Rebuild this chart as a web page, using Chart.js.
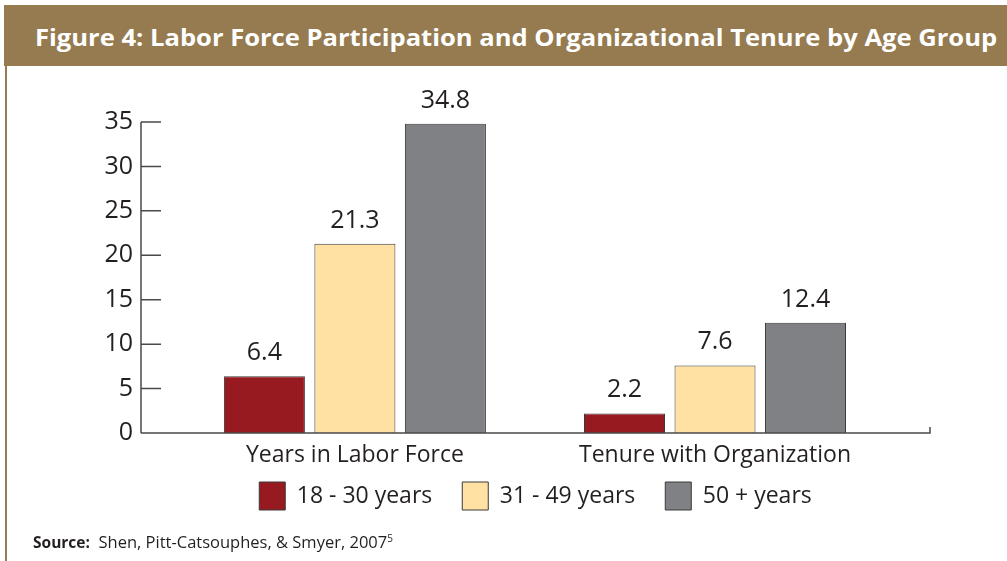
<!DOCTYPE html>
<html>
<head>
<meta charset="utf-8">
<script src="https://cdn.jsdelivr.net/npm/chart.js@4.4.1/dist/chart.umd.min.js"></script>
<style>
  html, body { margin: 0; padding: 0; background: #fff; }
  body { width: 1007px; height: 561px; position: relative; overflow: hidden; font-family: "Open Sans", sans-serif; }
  #frame { position: absolute; left: 5px; top: 5px; width: 2px; height: 556px; background: #957B4F; }
  #titlebar { position: absolute; left: 4px; top: 5px; width: 1003px; height: 61px; background: #957B4F; }
  #title { position: absolute; left: 35px; top: 22px; color: #fff; font-weight: 700; font-size: 24px; white-space: nowrap; transform-origin: 0 0; line-height: 30px; }
  #source { position: absolute; left: 33px; top: 530px; font-size: 16.5px; color: #231F20; white-space: nowrap; }
  #source b { font-size: 15.5px; }
  #source sup { font-size: 10px; }
  canvas { position: absolute; left: 0; top: 0; }
</style>
</head>
<body>
<canvas id="chart" width="1007" height="561"></canvas>
<div id="frame"></div>
<div id="titlebar"></div>
<div id="title">Figure 4: Labor Force Participation and Organizational Tenure by Age Group</div>
<div id="source"><b>Source:</b>&nbsp;&nbsp;Shen, Pitt-Catsouphes, &amp; Smyer, 2007<sup>5</sup></div>
<script>
// data
const categories = ['Years in Labor Force', 'Tenure with Organization'];
const ageGroups = ['18 - 30 years', '31 - 49 years', '50 + years'];
const young = [6.4, 2.2];
const middle = [21.3, 7.6];
const older = [34.8, 12.4];
const yTicks = [0, 5, 10, 15, 20, 25, 30, 35];

const colors = ['#961A1F', '#FEE1A3', '#808184'];
const ink = '#231F20';
const axisColor = '#4A4A4A';

// squeeze the title to the width of the bar
const title = document.getElementById('title');
title.style.transform = 'scaleX(' + (962 / title.scrollWidth) + ')';

function toPoints(values) {
  return values.map((v, i) => ({ x: i, y: v }));
}

const axisLines = {
  id: 'axisLines',
  afterDatasetsDraw(chart) {
    const ctx = chart.ctx;
    const x = chart.scales.x, y = chart.scales.y;
    const left = chart.chartArea.left, right = chart.chartArea.right;
    const y0 = y.getPixelForValue(0);
    ctx.save();
    ctx.strokeStyle = axisColor;
    ctx.lineWidth = 1.5;
    ctx.beginPath();
    ctx.moveTo(left, y0);
    ctx.lineTo(left, y.getPixelForValue(yTicks[yTicks.length - 1]));
    yTicks.forEach(t => {
      const py = y.getPixelForValue(t);
      ctx.moveTo(left, py);
      ctx.lineTo(left + 20, py);
    });
    ctx.moveTo(left, y0);
    ctx.lineTo(right, y0);
    ctx.lineTo(right, y0 - 6);
    ctx.stroke();

    ctx.fillStyle = ink;
    ctx.textAlign = 'center';

    // category names under the axis
    ctx.font = '23px "Open Sans"';
    ctx.textBaseline = 'middle';
    categories.forEach((c, i) => {
      ctx.fillText(c, x.getPixelForValue(i), y0 + 22);
    });

    // value labels above the bars
    ctx.font = '25px "Open Sans"';
    ctx.textBaseline = 'alphabetic';
    chart.data.datasets.forEach((ds, i) => {
      chart.getDatasetMeta(i).data.forEach((bar, j) => {
        ctx.fillText(ds.data[j].y.toFixed(1), bar.x, bar.y - 16);
      });
    });
    ctx.restore();
  }
};

new Chart(document.getElementById('chart'), {
  type: 'bar',
  data: {
    datasets: [
      { label: ageGroups[0], data: toPoints(young), backgroundColor: colors[0] },
      { label: ageGroups[1], data: toPoints(middle), backgroundColor: colors[1] },
      { label: ageGroups[2], data: toPoints(older), backgroundColor: colors[2] }
    ]
  },
  options: {
    responsive: false,
    animation: false,
    events: [],
    layout: { padding: { left: 0, right: 77, top: 122, bottom: 41 } },
    datasets: {
      bar: {
        borderColor: '#3A3A3A',
        borderWidth: 1,
        categoryPercentage: 0.754,
        barPercentage: 0.895
      }
    },
    scales: {
      x: {
        type: 'linear',
        offset: false,
        bounds: 'data',
        min: -0.594,
        max: 1.597,
        grid: { display: false, offset: false },
        border: { display: false },
        afterBuildTicks: s => { s.ticks = categories.map((c, i) => ({ value: i })); },
        afterFit: s => { s.height = 19; },
        ticks: { display: false }
      },
      y: {
        min: 0,
        max: 35,
        grid: { display: false, drawTicks: false },
        border: { display: false },
        afterBuildTicks: s => { s.ticks = yTicks.map(v => ({ value: v })); },
        afterFit: s => { s.width = 141; },
        ticks: {
          padding: 8,
          color: ink,
          font: { family: 'Open Sans', size: 25 }
        }
      }
    },
    plugins: {
      tooltip: { enabled: false },
      legend: {
        position: 'bottom',
        fullSize: false,
        labels: {
          boxWidth: 26,
          boxHeight: 28,
          padding: 30,
          color: ink,
          font: { family: 'Open Sans', size: 23 }
        }
      }
    }
  },
  plugins: [axisLines]
});
</script>
</body>
</html>
